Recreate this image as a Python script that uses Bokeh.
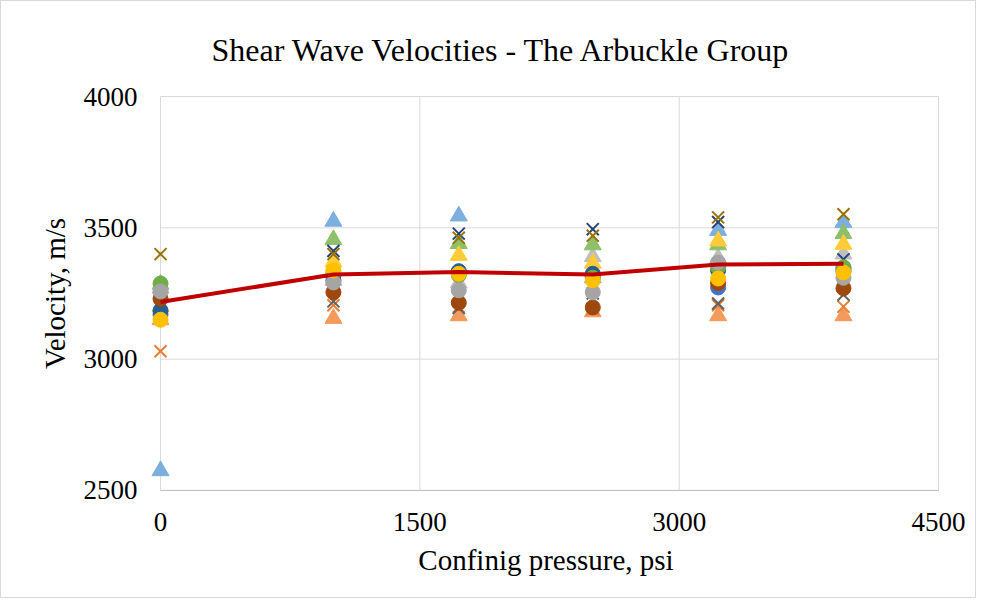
from bokeh.plotting import figure
from bokeh.models import FixedTicker
from bokeh.embed import file_html
from bokeh.resources import INLINE

# ---- data ----
pressure = [0, 1000, 1725, 2500, 3225, 3950]

tri_lightblue = [2575, 3525, 3545, 3310, 3490, 3520]
tri_orange = [3150, 3155, 3165, 3180, 3165, 3165]
tri_green = [3285, 3455, 3440, 3435, 3435, 3478]
tri_yellow = [3200, 3370, 3395, 3365, 3450, 3437]
tri_gray = [3270, 3300, 3290, 3390, 3385, 3400]

x_darkyellow = [3400, 3400, 3462, 3470, 3540, 3552]
x_darkblue = [3260, 3412, 3478, 3495, 3522, 3380]
x_orange = [3030, 3205, 3200, 3190, 3205, 3200]
x_darkgray = [3200, 3220, 3195, 3250, 3212, 3245]

c_blue = [3170, 3320, 3330, 3315, 3273, 3345]
c_darkblue = [3185, 3300, 3335, 3325, 3338, 3335]
c_brown = [3230, 3255, 3215, 3197, 3290, 3270]
c_green = [3288, 3330, 3320, 3310, 3350, 3350]
c_gray = [3258, 3292, 3262, 3255, 3368, 3310]
c_yellow = [3150, 3338, 3325, 3300, 3307, 3330]

average = [3218, 3322, 3332, 3322, 3360, 3363]

x_ticks = [0, 1500, 3000, 4500]
y_ticks = [2500, 3000, 3500, 4000]

FONT = "Liberation Serif"

p = figure(frame_width=791, frame_height=396,
           x_range=(-58, 4517), y_range=(2496, 4004),
           min_border_left=149, min_border_right=34,
           min_border_top=94, min_border_bottom=106,
           output_backend="svg", toolbar_location=None)
p.styles = {"border": "1px solid #d9d9d9"}
p.outline_line_color = None
p.background_fill_color = "white"
p.border_fill_color = "white"

# title
p.title.text = "Shear Wave Velocities - The Arbuckle Group"
p.title.align = "left"
p.title.offset = 61
p.title.text_font = FONT
p.title.text_font_size = "32px"
p.title.text_font_style = "normal"
p.title.text_color = "#000000"
p.title.standoff = 56

# axes
p.xaxis.ticker = FixedTicker(ticks=x_ticks)
p.yaxis.ticker = FixedTicker(ticks=y_ticks)
for ax in (p.xaxis, p.yaxis):
    ax.axis_line_color = None
    ax.major_tick_line_color = None
    ax.minor_tick_line_color = None
    ax.major_label_text_font = FONT
    ax.major_label_text_font_size = "27px"
    ax.major_label_text_color = "#000000"
    ax.axis_label_text_font = FONT
    ax.axis_label_text_font_size = "29px"
    ax.axis_label_text_font_style = "normal"
    ax.axis_label_text_color = "#000000"
p.xaxis.axis_label = "Confinig pressure, psi"
p.yaxis.axis_label = "Velocity, m/s"
p.xaxis.major_label_standoff = 15
p.yaxis.major_label_standoff = 7
p.xaxis.axis_label_standoff = 10
p.yaxis.axis_label_standoff = 10
p.xgrid.visible = False
p.ygrid.visible = False

# gridlines drawn through the data scales
p.segment(x0=[x_ticks[0]] * len(y_ticks), x1=[x_ticks[-1]] * len(y_ticks),
          y0=y_ticks, y1=y_ticks, line_color="#d9d9d9", line_width=1, level="underlay")
p.segment(x0=x_ticks, x1=x_ticks, y0=[y_ticks[0]] * len(x_ticks),
          y1=[y_ticks[-1]] * len(x_ticks), line_color="#d9d9d9", line_width=1, level="underlay")
p.segment(x0=[x_ticks[0]], x1=[x_ticks[-1]], y0=[y_ticks[0]], y1=[y_ticks[0]],
          line_color="#bfbfbf", line_width=1, level="underlay")

# series
triangles = [(tri_orange, "#F39A5C"), (tri_lightblue, "#7CAFDD"), (tri_gray, "#BFBFBF"),
             (tri_green, "#8EC06C"), (tri_yellow, "#FFCB38")]
crosses = [(x_orange, "#ED7D31"), (x_darkgray, "#636363"),
           (x_darkblue, "#264478"), (x_darkyellow, "#997300")]
circles = [(c_blue, "#4472C4"), (c_darkblue, "#255E91"), (c_brown, "#9E480E"),
           (c_green, "#70AD47"), (c_gray, "#A5A5A5"), (c_yellow, "#FFC000")]

for ys, col in triangles:
    p.scatter(pressure, ys, marker="triangle", size=17, fill_color=col, line_color=col)
for ys, col in crosses:
    p.scatter(pressure, ys, marker="x", size=17, line_color=col, line_width=2)
for ys, col in circles:
    p.scatter(pressure, ys, marker="circle", size=15, fill_color=col, line_color=col)

p.line(pressure, average, line_color="#C00000", line_width=4)

open("out.html", "w").write(file_html(p, INLINE))
